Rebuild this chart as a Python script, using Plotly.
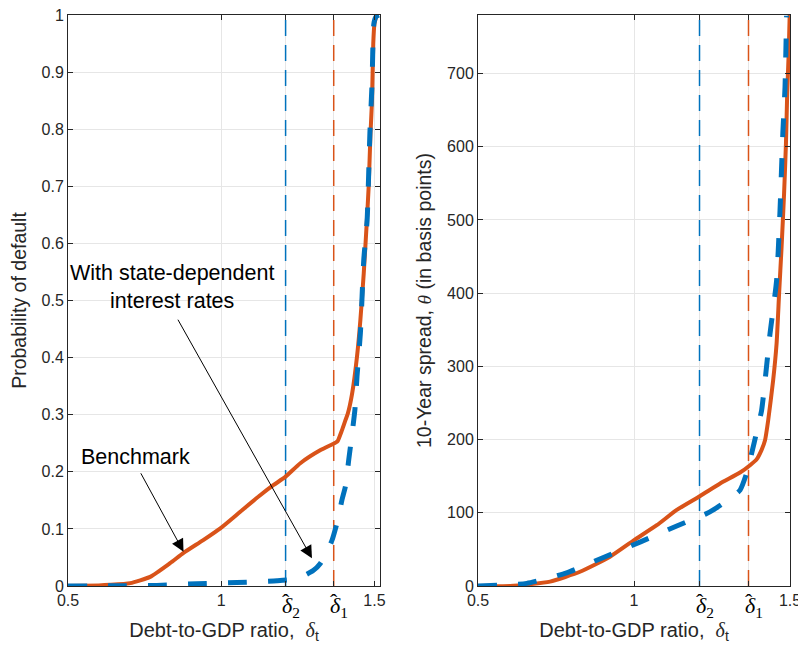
import plotly.graph_objects as go

# ---------------- data ----------------
# Left panel: probability of default
pd_bench_x = [0.50, 0.60, 0.637, 0.703, 0.768, 0.833, 0.877, 0.94, 0.997, 1.062, 1.127, 1.171,
              1.209, 1.258, 1.324, 1.373, 1.380, 1.394, 1.405, 1.413, 1.427, 1.443, 1.454,
              1.465, 1.474, 1.481, 1.487, 1.492, 1.496, 1.500, 1.507]
pd_bench_y = [0.0, 0.001, 0.002, 0.005, 0.016, 0.040, 0.058, 0.080, 0.101, 0.130, 0.159, 0.177,
              0.191, 0.215, 0.238, 0.251, 0.254, 0.273, 0.290, 0.302, 0.337, 0.402, 0.466,
              0.548, 0.629, 0.699, 0.793, 0.851, 0.950, 0.985, 1.0]

pd_state_x = [0.50, 0.65, 0.79, 0.92, 1.051, 1.182, 1.25, 1.30, 1.324, 1.345, 1.362, 1.380,
              1.394, 1.405, 1.416, 1.427, 1.436, 1.443, 1.454, 1.465, 1.476, 1.485, 1.492,
              1.498, 1.505, 1.514]
pd_state_y = [0.0, 0.0005, 0.001, 0.004, 0.006, 0.009, 0.013, 0.027, 0.040, 0.060, 0.081, 0.115,
              0.151, 0.174, 0.221, 0.267, 0.308, 0.367, 0.443, 0.571, 0.641, 0.793, 0.880,
              0.985, 0.997, 1.0]

# Right panel: 10-year spread (basis points)
sp_bench_x = [0.50, 0.603, 0.731, 0.827, 0.923, 0.998, 1.073, 1.137, 1.212, 1.276, 1.340,
              1.372, 1.393, 1.409, 1.420, 1.430, 1.446, 1.457, 1.465, 1.473, 1.481, 1.487,
              1.491, 1.496, 1.499]
sp_bench_y = [0, 0, 6, 19.5, 40, 62, 83, 104, 123, 140, 155, 165, 173, 186, 199, 226, 281,
              331, 399, 463, 536, 604, 672, 730, 780]

sp_state_x = [0.50, 0.656, 0.784, 0.902, 1.019, 1.137, 1.233, 1.254, 1.30, 1.34, 1.361, 1.377,
              1.393, 1.409, 1.436, 1.457, 1.468, 1.477, 1.484, 1.489]
sp_state_y = [0, 3.6, 18, 39, 60, 82, 99, 104, 117, 131, 154, 181, 210, 240, 345, 417, 513,
              618, 681, 779]

# Thresholds
delta_hat_1 = 1.367
delta_hat_2 = 1.21

x_tick_vals = [0.5, 1.0, delta_hat_2, delta_hat_1, 1.5]
x_tick_text = ["0.5", "1", "", "", "1.5"]
left_y_ticks = [0, 0.1, 0.2, 0.3, 0.4, 0.5, 0.6, 0.7, 0.8, 0.9, 1]
left_y_text = ["0", "0.1", "0.2", "0.3", "0.4", "0.5", "0.6", "0.7", "0.8", "0.9", "1"]
right_y_ticks = [0, 100, 200, 300, 400, 500, 600, 700]

# ---------------- style ----------------
ORANGE = "#D95319"
BLUE = "#0072BD"
AX = "#262626"
GRID = "#e6e6e6"
SANS = "Liberation Sans, Arial, sans-serif"
SERIF = "Liberation Serif, DejaVu Serif, serif"

W, H = 806, 654
OFF = 8  # page body margin
def fx(px):
    return (px - OFF) / W
def fy(py):
    return 1 - (py - OFF) / H

fig = go.Figure()

# left panel
fig.add_trace(go.Scatter(x=[delta_hat_2, delta_hat_2], y=[0, 1], mode="lines",
                         line=dict(color=BLUE, width=1.5, dash="16px,9px"),
                         xaxis="x", yaxis="y", showlegend=False, hoverinfo="skip"))
fig.add_trace(go.Scatter(x=[delta_hat_1, delta_hat_1], y=[0, 1], mode="lines",
                         line=dict(color=ORANGE, width=1.5, dash="16px,9px"),
                         xaxis="x", yaxis="y", showlegend=False, hoverinfo="skip"))
fig.add_trace(go.Scatter(x=pd_bench_x, y=pd_bench_y, mode="lines",
                         line=dict(color=ORANGE, width=4, shape="spline", smoothing=0.5),
                         xaxis="x", yaxis="y", showlegend=False))
fig.add_trace(go.Scatter(x=pd_state_x, y=pd_state_y, mode="lines",
                         line=dict(color=BLUE, width=5, dash="19px,21px", shape="spline", smoothing=0.5),
                         xaxis="x", yaxis="y", showlegend=False))

# right panel
fig.add_trace(go.Scatter(x=[delta_hat_2, delta_hat_2], y=[0, 780], mode="lines",
                         line=dict(color=BLUE, width=1.5, dash="16px,9px"),
                         xaxis="x2", yaxis="y2", showlegend=False, hoverinfo="skip"))
fig.add_trace(go.Scatter(x=[delta_hat_1, delta_hat_1], y=[0, 780], mode="lines",
                         line=dict(color=ORANGE, width=1.5, dash="16px,9px"),
                         xaxis="x2", yaxis="y2", showlegend=False, hoverinfo="skip"))
fig.add_trace(go.Scatter(x=sp_bench_x, y=sp_bench_y, mode="lines",
                         line=dict(color=ORANGE, width=4, shape="spline", smoothing=0.5),
                         xaxis="x2", yaxis="y2", showlegend=False))
fig.add_trace(go.Scatter(x=sp_state_x, y=sp_state_y, mode="lines",
                         line=dict(color=BLUE, width=5, dash="19px,21px", shape="spline", smoothing=0.5),
                         xaxis="x2", yaxis="y2", showlegend=False))

axis_common = dict(showline=True, linecolor=AX, linewidth=1, mirror="ticks",
                   ticks="inside", ticklen=5, tickcolor=AX, tickwidth=1,
                   showgrid=True, gridcolor=GRID, gridwidth=1, zeroline=False,
                   automargin=False, ticklabeloverflow="allow",
                   tickfont=dict(family=SANS, size=16, color=AX))

xtitle = "Debt-to-GDP ratio,  <span style='font-family:Liberation Serif'><i>δ</i></span><sub>t</sub>"

fig.update_layout(
    width=W, height=H,
    margin=dict(l=0, r=0, t=0, b=0),
    paper_bgcolor="white", plot_bgcolor="white",
    xaxis=dict(domain=[fx(68), fx(380)], range=[0.5, 1.518], anchor="y",
               tickmode="array", tickvals=x_tick_vals, ticktext=x_tick_text,
               title=dict(text=xtitle, font=dict(family=SANS, size=20, color=AX), standoff=14),
               **axis_common),
    yaxis=dict(domain=[fy(586), fy(15)], range=[0, 1], anchor="x",
               tickmode="array", tickvals=left_y_ticks, ticktext=left_y_text,
               title=dict(text="Probability of default", font=dict(family=SANS, size=19.5, color=AX), standoff=10),
               **axis_common),
    xaxis2=dict(domain=[fx(478), fx(790)], range=[0.5, 1.5], anchor="y2",
                tickmode="array", tickvals=x_tick_vals, ticktext=x_tick_text,
                title=dict(text=xtitle, font=dict(family=SANS, size=20, color=AX), standoff=14),
                **axis_common),
    yaxis2=dict(domain=[fy(586), fy(15)], range=[0, 780], anchor="x2",
                tickmode="array", tickvals=right_y_ticks,
                title=dict(text="10-Year spread, <span style='font-family:Liberation Serif'><i>θ</i></span> (in basis points)",
                           font=dict(family=SANS, size=19.5, color=AX), standoff=10),
                **axis_common),
)

# hat-delta tick labels
for xa in ["x", "x2"]:
    ya = "y" if xa == "x" else "y2"
    for val, sub in [(delta_hat_2, "2"), (delta_hat_1, "1")]:
        fig.add_annotation(x=val, y=0, xref=xa, yref=ya, xanchor="left", yanchor="top",
                           xshift=-6, yshift=-5,
                           text="<i>δ</i><sub>" + sub + "</sub>", showarrow=False,
                           font=dict(family=SERIF, size=22, color="black"))
        fig.add_annotation(x=val, y=0, xref=xa, yref=ya, xanchor="center", yanchor="top",
                           xshift=0, yshift=-1,
                           text="ˆ", showarrow=False,
                           font=dict(family=SERIF, size=22, color="black"))

# text arrows (left panel)
fig.add_annotation(x=0.877, y=0.060, ax=0.735, ay=0.200, xref="x", yref="y",
                   axref="x", ayref="y", showarrow=True, arrowhead=2, arrowsize=2.5,
                   arrowwidth=1, arrowcolor="black", text="")
fig.add_annotation(x=0.719, y=0.226, xref="x", yref="y", text="Benchmark", showarrow=False,
                   font=dict(family=SANS, size=21.5, color="black"))
fig.add_annotation(x=1.296, y=0.0485, ax=0.856, ay=0.469, xref="x", yref="y",
                   axref="x", ayref="y", showarrow=True, arrowhead=2, arrowsize=2.5,
                   arrowwidth=1, arrowcolor="black", text="")
fig.add_annotation(x=0.84, y=0.524, xref="x", yref="y",
                   text="With state-dependent<br>interest rates", showarrow=False,
                   font=dict(family=SANS, size=21.5, color="black"))

fig.write_html("out.html")
